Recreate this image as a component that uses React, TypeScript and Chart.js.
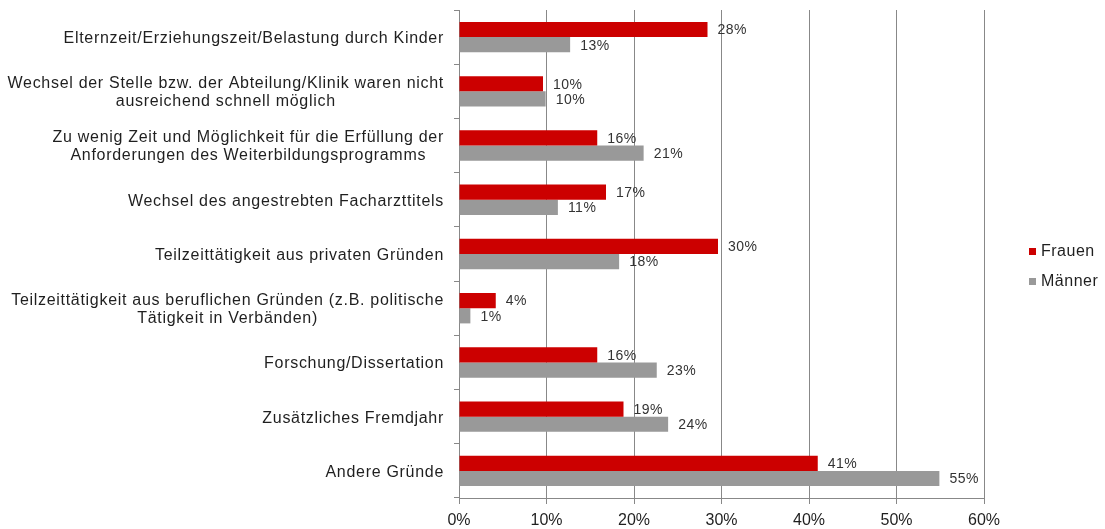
import React, { useEffect, useRef } from "react";
import { Chart, registerables } from "chart.js";

Chart.register(...registerables);

const categories: string[][] = [
  ["Elternzeit/Erziehungszeit/Belastung durch Kinder"],
  ["Wechsel der Stelle bzw. der Abteilung/Klinik waren nicht", "ausreichend schnell möglich"],
  ["Zu wenig Zeit und Möglichkeit für die Erfüllung der", "Anforderungen des Weiterbildungsprogramms"],
  ["Wechsel des angestrebten Facharzttitels"],
  ["Teilzeittätigkeit aus privaten Gründen"],
  ["Teilzeittätigkeit aus beruflichen Gründen (z.B. politische", "Tätigkeit in Verbänden)"],
  ["Forschung/Dissertation"],
  ["Zusätzliches Fremdjahr"],
  ["Andere Gründe"],
];

const seriesNames = ["Frauen", "Männer"];
const frauen = [28.4, 9.6, 15.8, 16.8, 29.6, 4.2, 15.8, 18.8, 41.0];
const maenner = [12.7, 9.9, 21.1, 11.3, 18.3, 1.3, 22.6, 23.9, 54.9];
const seriesColors = ["#CC0000", "#999999"];
const xMin = 0;
const xMax = 60;
const xStep = 10;

const FONT = "'Liberation Sans', Arial, sans-serif";
const GRID = "#888888";

const overlayPlugin = {
  id: "overlay",
  afterDatasetsDraw(chart: any) {
    const ctx = chart.ctx as CanvasRenderingContext2D;
    const area = chart.chartArea;
    const yScale = chart.scales.y;
    ctx.save();
    // data labels
    ctx.font = `14px ${FONT}`;
    ctx.fillStyle = "#333333";
    ctx.textAlign = "left";
    ctx.textBaseline = "middle";
    (ctx as any).letterSpacing = "0.5px";
    chart.data.datasets.forEach((ds: any, di: number) => {
      const meta = chart.getDatasetMeta(di);
      meta.data.forEach((bar: any, i: number) => {
        const v = ds.data[i];
        ctx.fillText(`${Math.round(v)}%`, bar.x + 10, bar.y + 1);
      });
    });
    // category labels
    ctx.font = `16px ${FONT}`;
    ctx.fillStyle = "#1f1f1f";
    ctx.textAlign = "center";
    (ctx as any).letterSpacing = "0.7px";
    const right = area.left - 15;
    const lh = 18;
    categories.forEach((lines, i) => {
      const cy = yScale.getPixelForValue(i) + 1.5;
      const maxW = Math.max(...lines.map((l) => ctx.measureText(l).width));
      const cx = right - maxW / 2;
      lines.forEach((l, k) => {
        ctx.fillText(l, cx, cy - ((lines.length - 1) * lh) / 2 + k * lh);
      });
    });
    // legend
    const lx = area.right + 45;
    const midY = (area.top + area.bottom) / 2;
    ctx.textAlign = "left";
    ctx.font = `16px ${FONT}`;
    (ctx as any).letterSpacing = "0.5px";
    seriesNames.forEach((name, k) => {
      const y = midY - 3 + k * 30;
      ctx.fillStyle = seriesColors[k];
      ctx.fillRect(lx, y - 3, 7, 7);
      ctx.fillStyle = "#1f1f1f";
      ctx.fillText(name, lx + 12, y + 1);
    });
    ctx.restore();
  },
};

export default function App() {
  const ref = useRef<HTMLCanvasElement | null>(null);
  useEffect(() => {
    document.body.style.margin = "0";
    const canvas = ref.current!;
    const chart = new Chart(canvas, {
      type: "bar",
      data: {
        labels: categories.map((c) => c.join(" ")),
        datasets: [
          { label: seriesNames[0], data: frauen, backgroundColor: seriesColors[0], borderWidth: 0 },
          { label: seriesNames[1], data: maenner, backgroundColor: seriesColors[1], borderWidth: 0 },
        ],
      },
      options: {
        indexAxis: "y",
        animation: false,
        responsive: false,
        maintainAspectRatio: false,
        layout: { padding: { top: 10, right: 121, left: 0, bottom: 0 } },
        datasets: { bar: { barPercentage: 1, categoryPercentage: 0.56 } },
        plugins: {
          legend: { display: false },
          tooltip: { enabled: false },
        },
        scales: {
          x: {
            type: "linear",
            min: xMin,
            max: xMax,
            afterFit: (s: any) => {
              s.height = 31;
            },
            ticks: {
              stepSize: xStep,
              color: "#1f1f1f",
              font: { family: FONT, size: 16 },
              padding: 7,
              callback: (v: any) => `${v}%`,
            },
            grid: { color: GRID, lineWidth: 1, tickLength: 6, drawTicks: true },
            border: { display: true, color: GRID, width: 1 },
          },
          y: {
            type: "category",
            afterFit: (s: any) => {
              s.width = 459;
            },
            ticks: { display: false },
            grid: { drawOnChartArea: false, drawTicks: true, tickLength: 5, color: GRID, offset: true },
            border: { display: true, color: GRID, width: 1 },
          },
        },
      },
      plugins: [overlayPlugin],
    });
    return () => chart.destroy();
  }, []);
  return (
    <div style={{ width: 1105, height: 529 }}>
      <canvas ref={ref} width={1105} height={529} style={{ display: "block" }} />
    </div>
  );
}
